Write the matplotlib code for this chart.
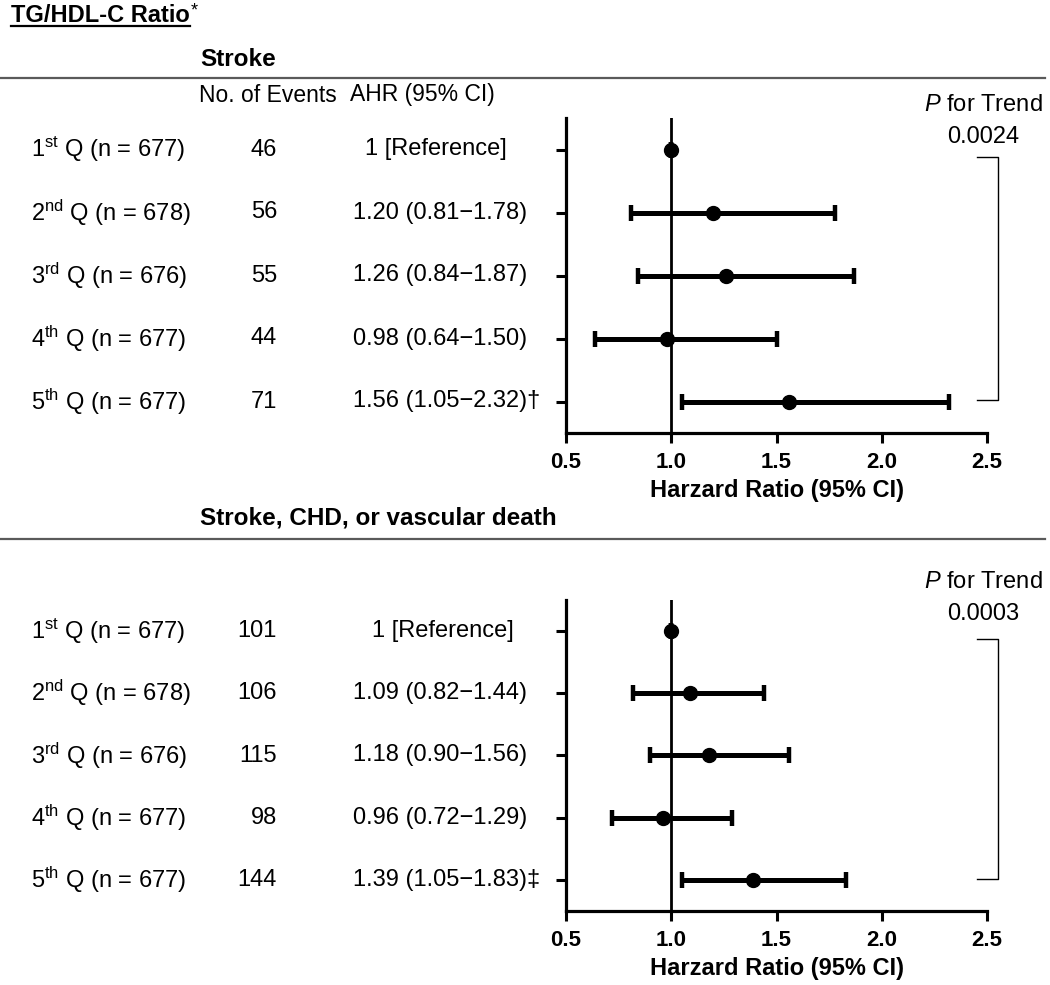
import matplotlib
matplotlib.use("Agg")
import matplotlib.pyplot as plt
import matplotlib.transforms as mtransforms
from matplotlib.lines import Line2D
import numpy as np

plt.rcParams['font.family'] = ['Liberation Sans', 'DejaVu Sans']
plt.rcParams['mathtext.fontset'] = 'custom'
plt.rcParams['mathtext.rm'] = 'Liberation Sans'
plt.rcParams['mathtext.it'] = 'Liberation Sans:italic'
plt.rcParams['mathtext.bf'] = 'Liberation Sans:bold'

# ---------------- data ----------------
quintile_ord = ["st", "nd", "rd", "th", "th"]
quintile_num = ["1", "2", "3", "4", "5"]
quintile_n = [677, 678, 676, 677, 677]

stroke_events = [46, 56, 55, 44, 71]
stroke_hr = [1.00, 1.20, 1.26, 0.98, 1.56]
stroke_lo = [1.00, 0.81, 0.84, 0.64, 1.05]
stroke_hi = [1.00, 1.78, 1.87, 1.50, 2.32]
stroke_sig = ["", "", "", "", "†"]
stroke_p = "0.0024"

comp_events = [101, 106, 115, 98, 144]
comp_hr = [1.00, 1.09, 1.18, 0.96, 1.39]
comp_lo = [1.00, 0.82, 0.90, 0.72, 1.05]
comp_hi = [1.00, 1.44, 1.56, 1.29, 1.83]
comp_sig = ["", "", "", "", "‡"]
comp_p = "0.0003"

x_ticks = [0.5, 1.0, 1.5, 2.0, 2.5]
x_label = "Harzard Ratio (95% CI)"

W, H = 1050, 985
fig = plt.figure(figsize=(W / 100, H / 100), dpi=100)


def fx(px):
    return px / W


def fy(py):
    return 1 - py / H


FS = 17
HFS = 17.5


def panel(ax_rect, title, events, hr, lo, hi, sig, pval, title_y, rule_y,
          header_y, p_y, ref_x, show_header):
    ax = fig.add_axes(ax_rect)
    rows = np.arange(1, len(hr) + 1)
    hr = np.array(hr)
    lo = np.array(lo)
    hi = np.array(hi)
    ax.axvline(1.0, color="black", lw=2.0, zorder=1)
    ax.errorbar(hr, rows, xerr=[hr - lo, hi - hr], fmt="o", color="black",
                ms=10, elinewidth=3.6, capsize=6, capthick=3.2, zorder=3)
    ax.set_xlim(0.5, 2.5)
    ax.set_ylim(5.5, 0.5)
    ax.set_xticks(x_ticks)
    ax.set_xticklabels([f"{t:.1f}" for t in x_ticks], fontsize=16,
                       fontweight="bold")
    ax.set_yticks(rows)
    ax.set_yticklabels([])
    for s in ["top", "right"]:
        ax.spines[s].set_visible(False)
    for s in ["left", "bottom"]:
        ax.spines[s].set_linewidth(2.3)
    ax.tick_params(axis="both", direction="out", length=7, width=2.2,
                   pad=7)
    ax.set_xlabel(x_label, fontsize=17, fontweight="bold", labelpad=4)

    tr = mtransforms.blended_transform_factory(fig.transFigure, ax.transData)
    for i, r in enumerate(rows):
        lab = (quintile_num[i] + r"$^{\mathrm{" + quintile_ord[i] + "}}$"
               + f" Q (n = {quintile_n[i]})")
        fig.text(fx(31), r, lab, transform=tr, fontsize=FS, ha="left",
                 va="center")
        fig.text(fx(277), r, str(events[i]), transform=tr, fontsize=FS,
                 ha="right", va="center")
        if i == 0:
            txt = "1 [Reference]"
            fig.text(fx(ref_x), r, txt, transform=tr, fontsize=FS,
                     ha="left", va="center")
        else:
            txt = f"{hr[i]:.2f} ({lo[i]:.2f}\u2212{hi[i]:.2f}){sig[i]}"
            fig.text(fx(353), r, txt, transform=tr, fontsize=FS, ha="left",
                     va="center")

    # section title and rule
    fig.text(fx(200), fy(title_y), title, fontsize=HFS, fontweight="bold",
             ha="left", va="center")
    fig.add_artist(Line2D([0, fx(1045)], [fy(rule_y), fy(rule_y)],
                          color="#5a5a5a", lw=1.6))
    if show_header:
        fig.text(fx(199), fy(header_y), "No. of Events", fontsize=16.5,
                 ha="left", va="center")
        fig.text(fx(350), fy(header_y), "AHR (95% CI)", fontsize=16.5,
                 ha="left", va="center")

    # P for trend + bracket
    fig.text(fx(983), fy(p_y), r"$\mathit{P}$ for Trend", fontsize=FS,
             ha="center", va="center")
    fig.text(fx(983), fy(p_y + 32), pval, fontsize=FS, ha="center",
             va="center")
    tb = mtransforms.blended_transform_factory(fig.transFigure, ax.transData)
    bx0, bx1 = fx(977), fx(998)
    y0, y1 = rows[0] + 0.12, rows[-1] - 0.02
    fig.add_artist(Line2D([bx0, bx1, bx1, bx0], [y0, y0, y1, y1],
                          transform=tb, color="black", lw=1.0))
    return ax


ax1 = panel([fx(566), fy(433), fx(987) - fx(566), (433 - 118) / H],
            "Stroke", stroke_events, stroke_hr, stroke_lo, stroke_hi,
            stroke_sig, stroke_p, title_y=59, rule_y=78, header_y=95,
            p_y=105, ref_x=365, show_header=True)
ax2 = panel([fx(566), fy(911), fx(987) - fx(566), (911 - 600) / H],
            "Stroke, CHD, or vascular death", comp_events, comp_hr, comp_lo,
            comp_hi, comp_sig, comp_p, title_y=518, rule_y=539,
            header_y=None, p_y=582, ref_x=372, show_header=False)

# main title with underline
t = fig.text(fx(11), fy(16), "TG/HDL-C Ratio", fontsize=17, fontweight="bold",
             ha="left", va="center")
fig.canvas.draw()
bb = t.get_window_extent(renderer=fig.canvas.get_renderer())
bb_fig = bb.transformed(fig.transFigure.inverted())
fig.add_artist(Line2D([bb_fig.x0, bb_fig.x1], [fy(26), fy(26)],
                      color="black", lw=1.6))
fig.text(bb_fig.x1 + fx(1), fy(11), "*", fontsize=13, ha="left",
         va="center")

fig.savefig("out.png", dpi=100)
